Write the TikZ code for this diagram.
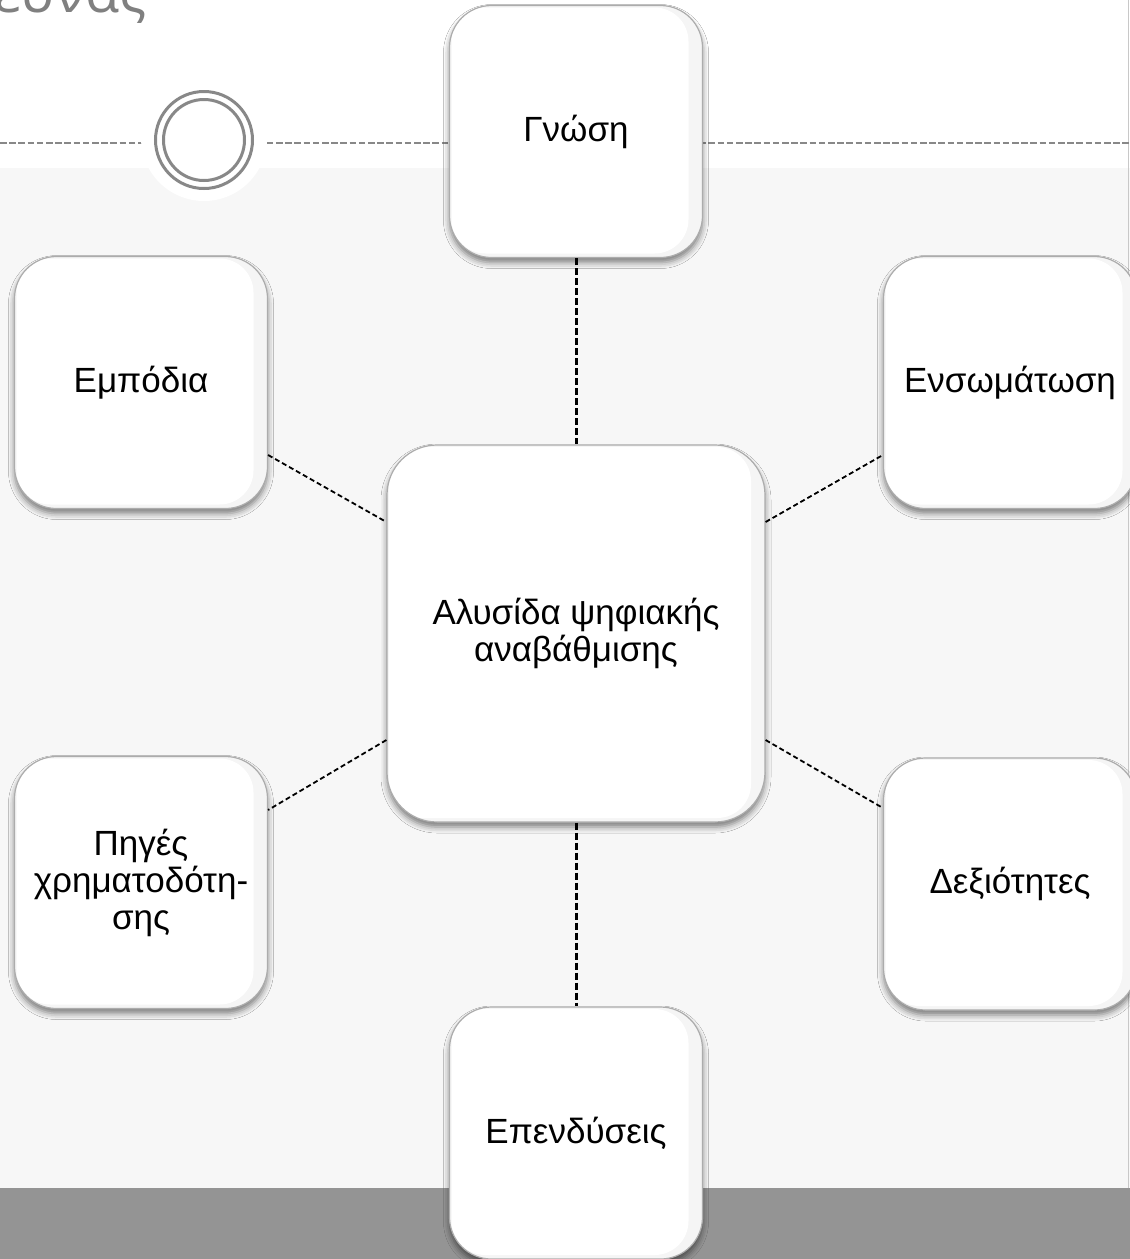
\documentclass[tikz,border=0pt]{standalone}
\usepackage{fontspec}
\setmainfont{Liberation Sans}
\newfontfamily\titlefont{Open Sans}
\usetikzlibrary{shadows.blur,calc}
\definecolor{bglight}{RGB}{247,247,247}
\definecolor{bandgray}{RGB}{148,148,148}
\definecolor{rulegray}{RGB}{136,136,136}
\definecolor{edgegray}{RGB}{200,200,200}
\definecolor{titlegray}{RGB}{128,128,128}
\tikzset{
  boxnode/.style={rectangle, rounded corners=21pt, minimum width=126.5pt, minimum height=126pt,
    fill=white, draw=gray!65, line width=0.6pt, align=center, text=black,
    font=\fontsize{17.5}{18.5}\selectfont,
    blur shadow={shadow xshift=0pt, shadow yshift=-2.5pt, shadow blur radius=3pt, shadow opacity=50},
    path picture={
      \fill[gray!8] (path picture bounding box.south west) rectangle (path picture bounding box.north east);
      \fill[white, rounded corners=17pt] ([xshift=1pt,yshift=-1pt]path picture bounding box.north west) rectangle ([xshift=-7pt,yshift=2pt]path picture bounding box.south east);
    }},
  bigbox/.style={boxnode, rounded corners=25pt, minimum width=189pt, minimum height=188.5pt},
  vlink/.style={draw=black, line width=1.5pt, dash pattern=on 3.5pt off 1.5pt},
  dlink/.style={draw=black, line width=0.9pt, dash pattern=on 2.5pt off 1.5pt},
  topdash/.style={draw=rulegray, line width=1pt, dash pattern=on 3.3pt off 1.3pt},
  ring/.style={circle, draw=rulegray, line width=1.5pt, inner sep=0pt, fill=none}
}
\begin{document}
\begin{tikzpicture}[x=0.5pt,y=-0.5pt]
\useasboundingbox (0,0) rectangle (1130,1259);
\clip (0,0) rectangle (1130,1259);
% backgrounds
\fill[white] (0,0) rectangle (1130,1259);
\fill[bglight] (0,168) rectangle (1130,1188);
\fill[bandgray] (0,1188) rectangle (1130,1259);
\draw[edgegray, line width=0.8pt] (1128.5,0) -- (1128.5,1188);
% title (cut off by the page edge, as in the reference)
\node[anchor=base east, inner sep=0pt, text=titlegray, font=\titlefont\fontsize{28}{30}\selectfont] (title) at (147,12) {Έρευνας};
% top dashed rule and circle ornament
\draw[topdash] (0,143) -- (1130,143);
\fill[white] (204,138) circle[radius=63];
\node[ring, minimum size=48.5pt] (ringout) at (204,140) {};
\node[ring, minimum size=40.5pt] (ringin) at (204,140) {};
% boxes
\node[boxnode] (gn) at (576,131.5) {Γνώση};
\node[boxnode] (emp) at (141,382.5) {Εμπόδια};
\node[boxnode] (ens) at (1010,382.5) {Ενσωμάτωση};
\node[bigbox] (ctr) at (576,633.5) {Αλυσίδα ψηφιακής\\αναβάθμισης};
\node[boxnode] (pig) at (141,882.5) {Πηγές\\χρηματοδότη-\\σης};
\node[boxnode] (dex) at (1010,884) {Δεξιότητες};
\node[boxnode] (epe) at (576,1133) {Επενδύσεις};
% connectors
\draw[vlink] (gn.south) -- (ctr.north);
\draw[vlink] (ctr.south) -- (epe.north);
\draw[dlink] ([yshift=-36.25pt]emp.east) -- ([yshift=55.75pt]ctr.west);
\draw[dlink] ([yshift=55.75pt]ctr.east) -- ([yshift=-36.25pt]ens.west);
\draw[dlink] ([yshift=-53.25pt]ctr.west) -- ([yshift=36.25pt]pig.east);
\draw[dlink] ([yshift=-53.25pt]ctr.east) -- ([yshift=38pt]dex.west);
\end{tikzpicture}
\end{document}
